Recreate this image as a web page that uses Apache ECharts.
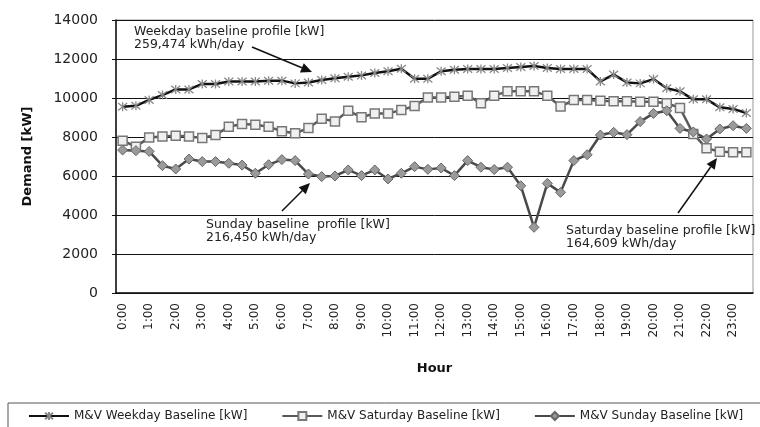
<!DOCTYPE html>
<html>
<head>
<meta charset="utf-8">
<script src="https://cdn.jsdelivr.net/npm/echarts@6/dist/echarts.min.js"></script>
<style>
  html, body { margin: 0; padding: 0; background: #fff; }
  #chart { width: 760px; height: 427px; }
</style>
</head>
<body>
<div id="chart"></div>
<script>
var hours = ['0:00','0:30','1:00','1:30','2:00','2:30','3:00','3:30','4:00','4:30','5:00','5:30',
  '6:00','6:30','7:00','7:30','8:00','8:30','9:00','9:30','10:00','10:30','11:00','11:30',
  '12:00','12:30','13:00','13:30','14:00','14:30','15:00','15:30','16:00','16:30','17:00','17:30',
  '18:00','18:30','19:00','19:30','20:00','20:30','21:00','21:30','22:00','22:30','23:00','23:30']

var weekday = [9550, 9600, 9900, 10150, 10440, 10440, 10720, 10720, 10850, 10850, 10850, 10890,
  10890, 10750, 10800, 10920, 11010, 11090, 11160, 11280, 11370, 11500, 10990, 10990,
  11370, 11450, 11490, 11490, 11490, 11540, 11590, 11640, 11540, 11490, 11490, 11490,
  10850, 11200, 10800, 10750, 10970, 10500, 10340, 9930, 9930, 9520, 9440, 9230]

var saturday = [7810, 7500, 7980, 8030, 8070, 8030, 7950, 8100, 8530, 8670, 8630, 8530,
  8290, 8190, 8460, 8940, 8800, 9350, 9010, 9210, 9210, 9380, 9590, 10030,
  10030, 10070, 10120, 9730, 10120, 10340, 10340, 10340, 10120, 9560, 9900, 9900,
  9860, 9830, 9830, 9810, 9810, 9730, 9490, 8160, 7420, 7250, 7220, 7220]

var sunday = [7330, 7300, 7260, 6530, 6360, 6870, 6740, 6740, 6650, 6560, 6140, 6580,
  6840, 6790, 6100, 5970, 6000, 6310, 6020, 6310, 5850, 6140, 6480, 6340,
  6410, 6020, 6790, 6450, 6330, 6450, 5500, 3370, 5620, 5160, 6790, 7090,
  8100, 8240, 8120, 8790, 9210, 9350, 8440, 8260, 7900, 8410, 8580, 8440]

var seriesNames = ['M&V Weekday Baseline [kW]', 'M&V Saturday Baseline [kW]', 'M&V Sunday Baseline [kW]']

var font = 'DejaVu Sans'

// arrow = shaft line + filled head
function arrow(x1, y1, x2, y2) {
  var dx = x2 - x1, dy = y2 - y1
  var len = Math.sqrt(dx * dx + dy * dy)
  var ux = dx / len, uy = dy / len
  var hl = 11, hw = 5
  var bx = x2 - ux * hl, by = y2 - uy * hl
  return [
    { type: 'line', shape: { x1: x1, y1: y1, x2: bx, y2: by }, style: { stroke: '#111', lineWidth: 1.5 } },
    { type: 'polygon', shape: { points: [[x2, y2], [bx - uy * hw, by + ux * hw], [bx + uy * hw, by - ux * hw]] }, style: { fill: '#111' } }
  ]
}

function note(x, y, text) {
  return {
    type: 'text', x: x, y: y,
    style: { text: text, font: '12.5px "DejaVu Sans"', fill: '#222', lineHeight: 13, textVerticalAlign: 'top' }
  }
}

var graphics = [].concat(
  [note(134, 25, 'Weekday baseline profile [kW]\n259,474 kWh/day')],
  arrow(252, 47, 312, 72),
  [note(206, 218, 'Sunday baseline  profile [kW]\n216,450 kWh/day')],
  arrow(282, 211, 310, 183),
  [note(566, 224, 'Saturday baseline profile [kW]\n164,609 kWh/day')],
  arrow(678, 213, 717, 158)
)

var myChart = echarts.init(document.getElementById('chart'))
var option = {
  backgroundColor: '#fff',
  animation: false,
  textStyle: { fontFamily: font },
  grid: {
    left: 116,
    right: 7,
    top: 20,
    bottom: 134,
    show: true,
    borderColor: '#999',
    borderWidth: 1
  },
  legend: {
    left: 8,
    top: 403,
    width: 1000,
    padding: [7, 20, 7, 20],
    itemGap: 34,
    itemWidth: 40,
    itemHeight: 10,
    borderColor: '#555',
    borderWidth: 1,
    textStyle: { fontFamily: font, fontSize: 12, color: '#222' },
    data: seriesNames
  },
  xAxis: {
    type: 'category',
    data: hours,
    boundaryGap: true,
    name: 'Hour',
    nameLocation: 'middle',
    nameGap: 69,
    nameTextStyle: { fontFamily: font, fontSize: 13, fontWeight: 'bold', color: '#111' },
    axisLine: { lineStyle: { color: '#111', width: 1.5 } },
    axisTick: { interval: 0, length: 4, lineStyle: { color: '#111' } },
    axisLabel: { interval: 1, rotate: 90, margin: 10, fontFamily: font, fontSize: 12, color: '#222' },
    splitLine: { show: false }
  },
  yAxis: {
    type: 'value',
    min: 0,
    max: 14000,
    interval: 2000,
    name: 'Demand [kW]',
    nameLocation: 'middle',
    nameRotate: 90,
    nameGap: 82,
    nameTextStyle: { fontFamily: font, fontSize: 13, fontWeight: 'bold', color: '#111' },
    axisLine: { show: true, lineStyle: { color: '#111', width: 1.5 } },
    axisTick: { show: true, length: 4, lineStyle: { color: '#111' } },
    axisLabel: {
      margin: 18, fontFamily: font, fontSize: 14, color: '#222',
      formatter: function(value) { return String(value) }
    },
    splitLine: { show: true, lineStyle: { color: '#111', width: 1 } }
  },
  series: [
    {
      name: seriesNames[0],
      type: 'line',
      data: weekday,
      symbol: 'path://M0,0L10,10M10,0L0,10M5,-1L5,11',
      symbolSize: 9,
      showAllSymbol: true,
      lineStyle: { color: '#111', width: 2.5 },
      itemStyle: { color: '#888', borderColor: '#888', borderWidth: 1.3 }
    },
    {
      name: seriesNames[1],
      type: 'line',
      data: saturday,
      symbol: 'rect',
      symbolSize: 9,
      showAllSymbol: true,
      lineStyle: { color: '#5a5a5a', width: 2.5 },
      itemStyle: { color: '#f0f0f0', borderColor: '#777', borderWidth: 1.5 }
    },
    {
      name: seriesNames[2],
      type: 'line',
      data: sunday,
      symbol: 'diamond',
      symbolSize: 10,
      showAllSymbol: true,
      lineStyle: { color: '#4a4a4a', width: 2.5 },
      itemStyle: { color: '#9a9a9a', borderColor: '#666', borderWidth: 1 }
    }
  ],
  graphic: graphics
}
myChart.setOption(option, true)
</script>
</body>
</html>
